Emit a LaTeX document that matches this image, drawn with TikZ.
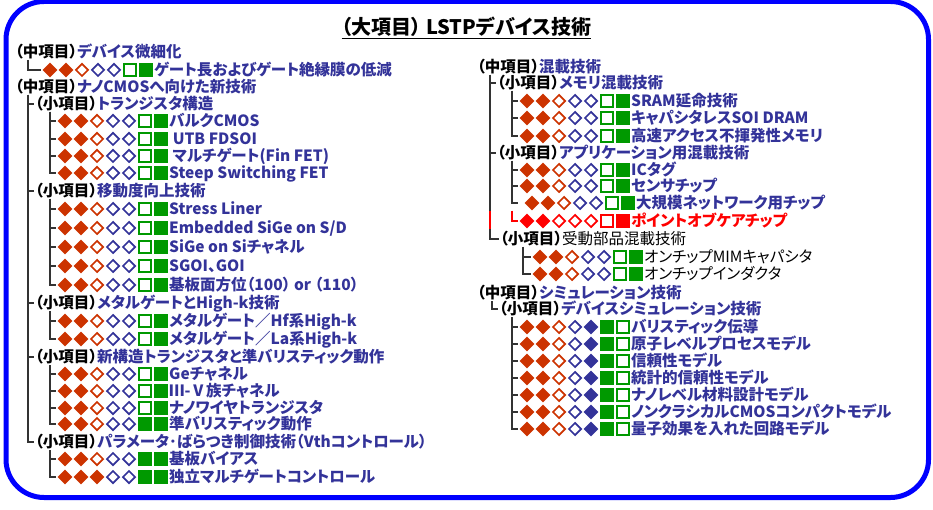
\documentclass[tikz,border=0pt]{standalone}
\usepackage{fontspec}
\setmainfont{Noto Sans CJK JP}[RawFeature=+palt]
\usetikzlibrary{shapes.geometric}

\definecolor{navy}{RGB}{51,51,153}
\definecolor{rust}{RGB}{204,51,0}
\definecolor{leafgreen}{RGB}{0,153,0}
\definecolor{hotred}{RGB}{255,0,0}
\definecolor{framebl}{RGB}{0,0,255}

\tikzset{
	rf/.style={diamond, fill=rust, minimum size=15pt, inner sep=0pt},
	ro/.style={diamond, draw=rust, line width=1.7pt, minimum size=12.8pt, inner sep=0pt},
	bo/.style={ro, draw=navy},
	bb/.style={rf, fill=navy},
	go/.style={rectangle, draw=leafgreen, line width=1.9pt, minimum size=11.2pt, inner sep=0pt},
	gf/.style={rectangle, fill=leafgreen, minimum size=13.2pt, inner sep=0pt},
	xf/.style={rf, fill=hotred},
	xo/.style={ro, draw=hotred},
	xs/.style={go, draw=hotred},
	xq/.style={gf, fill=hotred},
	txt/.style={inner sep=0pt, text height=13pt, text depth=1.5pt, anchor=west, text=navy,
		font=\bfseries\fontsize{15.5}{17}\selectfont},
	tree/.style={line width=1.2pt, black!80, shorten >=1.5pt},
}

\def\std{rf,rf,ro,bo,bo,go,gf}
\def\late{rf,rf,ro,bo,bo,gf,gf}
\def\indep{rf,rf,rf,bo,bo,gf,gf}
\def\simu{rf,rf,ro,bo,bb,gf,go}
\def\poc{xf,xf,xo,xo,xo,xs,xq}

\newcommand\kou[1]{{\color{black}（#1）}}
% name, x of first mark, y, marks, text
\newcommand\leafrow[5]{%
	\foreach \m [count=\i] in #4
		\node[\m] (#1-\i) at ({#2+16*(\i-1)},#3) {};
	\node[txt] (#1) at ({#2+104},#3) {#5};
}

\begin{document}
\begin{tikzpicture}[x=1pt, y=-1pt]

	\useasboundingbox (0,0) rectangle (933,510);
	\draw[framebl, line width=5pt, rounded corners=38pt] (6,1.5) rectangle (928.5,497.5);

	\node[inner sep=0pt, font=\bfseries\fontsize{20}{22}\selectfont] (ttl) at (466.5,27) {（大項目）\ LSTPデバイス技術};
	\draw[line width=1.4pt] ([yshift=-3.5pt]ttl.base west) -- ([yshift=-3.5pt]ttl.base east);

	% left column
	\node[txt] (fine) at (15,52) {\kou{中項目}デバイス微細化};
	\coordinate (fine-t) at (28,60);
	\leafrow{gate}{50}{70}{\std}{ゲート長およびゲート絶縁膜の低減}
	\draw[tree] (fine-t) |- (gate-1.west);

	\node[txt] (nano) at (15,87) {\kou{中項目}ナノCMOSへ向けた新技術};
	\coordinate (nano-t) at (28,95);

	\node[txt] (tr) at (35,104) {\kou{小項目}トランジスタ構造};
	\coordinate (tr-t) at (50,112);
	\leafrow{bulk}{65}{121}{\std}{バルクCMOS}
	\leafrow{utb}{65}{139}{\std}{\ UTB FDSOI}
	\leafrow{multi}{65}{156}{\std}{\ マルチゲート(Fin FET)}
	\leafrow{steep}{65}{173}{\std}{Steep Switching FET}
	\foreach \n in {bulk,utb,multi,steep}
		\draw[tree] (tr-t) |- (\n-1.west);

	\node[txt] (mob) at (35,191) {\kou{小項目}移動度向上技術};
	\coordinate (mob-t) at (50,199);
	\leafrow{liner}{65}{209}{\std}{Stress Liner}
	\leafrow{esige}{65}{228}{\std}{Embedded SiGe on S/D}
	\leafrow{sige}{65}{247}{\std}{SiGe on Siチャネル}
	\leafrow{sgoi}{65}{266}{\std}{SGOI、GOI}
	\leafrow{orient}{65}{285}{\std}{基板面方位（100） or （110）}
	\foreach \n in {liner,esige,sige,sgoi,orient}
		\draw[tree] (mob-t) |- (\n-1.west);

	\node[txt] (metal) at (35,303) {\kou{小項目}メタルゲートとHigh-k技術};
	\coordinate (metal-t) at (50,311);
	\leafrow{hf}{65}{321}{\std}{メタルゲート／Hf系High-k}
	\leafrow{la}{65}{339}{\std}{メタルゲート／La系High-k}
	\foreach \n in {hf,la}
		\draw[tree] (metal-t) |- (\n-1.west);

	\node[txt] (newst) at (35,357) {\kou{小項目}新構造トランジスタと準バリスティック動作};
	\coordinate (newst-t) at (50,365);
	\leafrow{ge}{65}{374}{\std}{Geチャネル}
	\leafrow{iiiv}{65}{391}{\std}{Ⅲ-Ⅴ族チャネル}
	\leafrow{wire}{65}{408}{\std}{ナノワイヤトランジスタ}
	\leafrow{qbal}{65}{424}{\late}{準バリスティック動作}
	\foreach \n in {ge,iiiv,wire,qbal}
		\draw[tree] (newst-t) |- (\n-1.west);

	\node[txt] (param) at (35,442) {\kou{小項目}パラメータ･ばらつき制御技術（Vthコントロール）};
	\coordinate (param-t) at (50,450);
	\leafrow{bias}{65}{459}{\late}{基板バイアス}
	\leafrow{indep}{65}{477}{\indep}{独立マルチゲートコントロール}
	\foreach \n in {bias,indep}
		\draw[tree] (param-t) |- (\n-1.west);

	\foreach \n in {tr,mob,metal,newst,param}
		\draw[tree] (nano-t) |- (\n.west);

	% right column
	\node[txt] (mix) at (477,67) {\kou{中項目}混載技術};
	\coordinate (mix-t) at (490,75);

	\node[txt] (mem) at (497,83) {\kou{小項目}メモリ混載技術};
	\coordinate (mem-t) at (512,91);
	\leafrow{sram}{527}{101}{\std}{SRAM延命技術}
	\leafrow{cap}{527}{118}{\std}{キャパシタレスSOI DRAM}
	\leafrow{nvm}{527}{136}{\std}{高速アクセス不揮発性メモリ}
	\foreach \n in {sram,cap,nvm}
		\draw[tree] (mem-t) |- (\n-1.west);

	\node[txt] (app) at (497,153) {\kou{小項目}アプリケーション用混載技術};
	\coordinate (app-t) at (512,161);
	\leafrow{ic}{527}{170}{\std}{ICタグ}
	\leafrow{sens}{527}{186}{\std}{センサチップ}
	\leafrow{net}{532}{203}{\std}{大規模ネットワーク用チップ}
	\leafrow{poc}{527}{221}{\poc}{\color{hotred}ポイントオブケアチップ}
	\foreach \n in {ic,sens}
		\draw[tree] (app-t) |- (\n-1.west);
	\draw[tree, shorten >=6pt] (app-t) |- (net-1.west);
	\draw[tree, hotred] (app-t |- net-1.south) |- (poc-1.west);

	\node[txt, text=black] (pas) at (500,239) {\kou{小項目}\mdseries 受動部品混載技術};
	\coordinate (pas-t) at (523,247);
	\leafrow{mim}{540}{257}{\std}{\mdseries\color{black}オンチップMIMキャパシタ}
	\leafrow{ind}{540}{274}{\std}{\mdseries\color{black}オンチップインダクタ}
	\foreach \n in {mim,ind}
		\draw[tree] (pas-t) |- (\n-1.west);

	\foreach \n in {mem,app,pas}
		\draw[tree] (mix-t) |- (\n.west);
	\draw[tree, hotred, shorten >=0pt] (mix-t |- net-1.south) -- (mix-t |- poc-1.south);

	\node[txt] (sim) at (477,293) {\kou{中項目}シミュレーション技術};
	\coordinate (sim-t) at (492,301);
	\node[txt] (dev) at (499,309) {\kou{小項目}デバイスシミュレーション技術};
	\draw[tree] (sim-t) |- (dev.west);
	\coordinate (dev-t) at (512,317);
	\leafrow{ball}{527}{327}{\simu}{バリスティック伝導}
	\leafrow{atom}{527}{344}{\simu}{原子レベルプロセスモデル}
	\leafrow{rel}{527}{361}{\simu}{信頼性モデル}
	\leafrow{stat}{527}{378}{\simu}{統計的信頼性モデル}
	\leafrow{mat}{527}{395}{\simu}{ナノレベル材料設計モデル}
	\leafrow{ncl}{527}{412}{\simu}{ノンクラシカルCMOSコンパクトモデル}
	\leafrow{qc}{527}{429}{\simu}{量子効果を入れた回路モデル}
	\foreach \n in {ball,atom,rel,stat,mat,ncl,qc}
		\draw[tree] (dev-t) |- (\n-1.west);

\end{tikzpicture}
\end{document}
